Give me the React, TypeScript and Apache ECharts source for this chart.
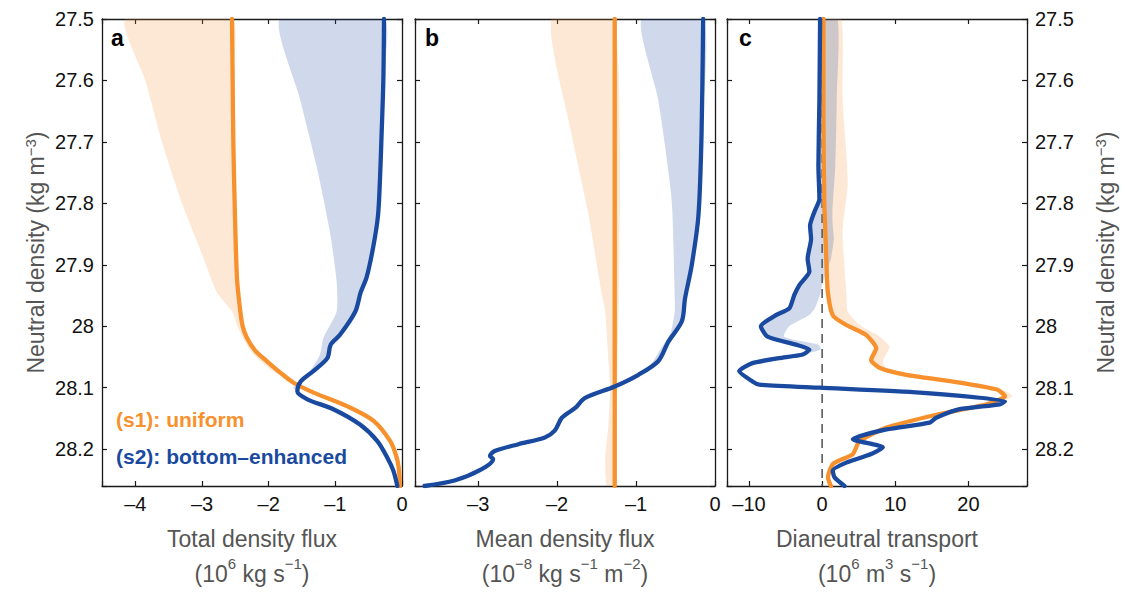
import React, { useEffect, useRef } from 'react';
import * as echarts from 'echarts';

const FONT = '"Liberation Sans", Arial, Helvetica, sans-serif';
const ORANGE = '#F7912D';
const BLUE = '#1A4A9F';
const ORANGE_FILL = 'rgba(246,141,46,0.2)';
const BLUE_FILL = 'rgba(27,75,160,0.21)';
const NAME_GRAY = '#555555';

// ---------- Panel a: total density flux (10^6 kg s^-1) ----------
const A_S1_DENS = [27.5, 27.6, 27.7, 27.8, 27.922, 27.976, 28.0, 28.019, 28.04, 28.057, 28.075, 28.092, 28.108, 28.13, 28.154, 28.187, 28.21, 28.23, 28.26];
const A_S1_FLUX = [-2.55, -2.54, -2.53, -2.51, -2.475, -2.425, -2.39, -2.325, -2.2, -2.025, -1.83, -1.626, -1.326, -0.825, -0.426, -0.176, -0.09, -0.05, -0.03];
const A_S1_BAND_DENS = [27.5, 27.6, 27.7, 27.8, 27.874, 27.944, 27.976, 28.0, 28.03, 28.05, 28.072, 28.092];
const A_S1_BAND_LOW = [-4.15, -3.85, -3.6, -3.3, -3.03, -2.78, -2.55, -2.47, -2.33, -2.19, -1.95, -1.626];

const A_S2_DENS = [27.5, 27.6, 27.7, 27.76, 27.82, 27.87, 27.92, 27.945, 27.976, 28.014, 28.03, 28.052, 28.073, 28.09, 28.106, 28.119, 28.135, 28.16, 28.187, 28.214, 28.235, 28.26];
const A_S2_FLUX = [-0.27, -0.28, -0.31, -0.33, -0.36, -0.43, -0.53, -0.62, -0.7, -0.93, -1.07, -1.12, -1.33, -1.52, -1.57, -1.42, -1.03, -0.63, -0.37, -0.22, -0.13, -0.07];
const A_S2_BAND_DENS = [27.5, 27.63, 27.74, 27.847, 27.928, 27.976, 28.019, 28.046, 28.073, 28.1, 28.106];
const A_S2_BAND_LOW = [-1.83, -1.53, -1.28, -1.08, -0.98, -0.98, -1.18, -1.23, -1.38, -1.63, -1.57];

// ---------- Panel b: mean density flux (10^-8 kg s^-1 m^-2) ----------
const B_S1_DENS = [27.5, 28.26];
const B_S1_FLUX = [-1.27, -1.27];
const B_S1_BAND_DENS = [27.5, 27.685, 27.82, 27.944, 27.976, 28.057, 28.1, 28.16, 28.214, 28.26];
const B_S1_BAND_LOW = [-2.07, -1.82, -1.6, -1.44, -1.39, -1.35, -1.33, -1.35, -1.39, -1.37];

const B_S2_DENS = [27.5, 27.685, 27.82, 27.901, 27.955, 27.992, 28.025, 28.057, 28.079, 28.098, 28.117, 28.133, 28.149, 28.17, 28.181, 28.192, 28.203, 28.211, 28.216, 28.233, 28.251, 28.26];
const B_S2_FLUX = [-0.15, -0.17, -0.21, -0.295, -0.38, -0.42, -0.59, -0.72, -0.97, -1.27, -1.65, -1.77, -1.94, -2.03, -2.155, -2.49, -2.79, -2.85, -2.81, -2.96, -3.3, -3.68];
const B_S2_BAND_DENS = [27.5, 27.631, 27.793, 27.955, 27.976, 28.01, 28.035, 28.06, 28.079];
const B_S2_BAND_LOW = [-0.93, -0.72, -0.55, -0.51, -0.51, -0.56, -0.68, -0.8, -0.97];

// ---------- Panel c: dianeutral transport (10^6 m^3 s^-1) ----------
const C_S1_DENS = [27.5, 27.6, 27.7, 27.8, 27.85, 27.9, 27.944, 27.982, 27.998, 28.014, 28.036, 28.055, 28.068, 28.079, 28.09, 28.103, 28.114, 28.127, 28.144, 28.165, 28.187, 28.208, 28.224, 28.246, 28.26];
const C_S1_TRANS = [0.18, 0.18, 0.2, 0.3, 0.45, 0.6, 0.77, 1.45, 3.3, 6.0, 7.4, 6.7, 7.9, 11.5, 17.9, 23.9, 25.0, 22.5, 15.6, 8.8, 5.1, 4.2, 1.5, 0.8, 1.2];
const C_S1_BAND_DENS = [27.5, 27.631, 27.766, 27.847, 27.944, 27.976, 27.998, 28.014, 28.033, 28.057, 28.068, 28.079, 28.09, 28.103, 28.114, 28.127];
const C_S1_BAND_LOW = [0.0, 0.0, 0.05, 0.15, 0.6, 1.3, 2.8, 5.5, 7.0, 6.4, 7.6, 11.2, 17.5, 23.5, 24.5, 22.3];
const C_S1_BAND_HIGH = [2.6, 2.8, 3.5, 2.8, 3.3, 3.5, 5.1, 7.5, 9.2, 8.3, 8.8, 12.2, 18.6, 24.6, 26.0, 23.0];

const C_S2_DENS = [27.5, 27.631, 27.739, 27.793, 27.814, 27.836, 27.858, 27.89, 27.911, 27.933, 27.949, 27.971, 27.982, 28.0, 28.017, 28.03, 28.038, 28.046, 28.052, 28.06, 28.073, 28.09, 28.095, 28.1, 28.108, 28.122, 28.127, 28.135, 28.149, 28.157, 28.168, 28.184, 28.197, 28.208, 28.222, 28.235, 28.246, 28.26];
const C_S2_TRANS = [-0.28, -0.37, -0.51, -0.37, -1.06, -1.65, -1.51, -1.98, -1.74, -3.11, -3.8, -4.49, -6.31, -8.37, -7.46, -3.57, -1.74, -2.66, -5.86, -9.52, -11.34, -9.52, -8.6, -0.37, 13.35, 25.0, 24.3, 18.8, 15.6, 14.7, 8.8, 4.2, 8.3, 6.7, 3.3, 1.45, 1.7, 3.06];
const C_S2_BAND_DENS = [27.5, 27.631, 27.739, 27.793, 27.814, 27.836, 27.858, 27.89, 27.911, 27.933, 27.949, 27.971, 27.982, 28.0, 28.017, 28.03, 28.038, 28.046];
const C_S2_BAND_LOW = [-0.35, -0.45, -0.6, -0.45, -1.15, -1.75, -1.6, -2.05, -1.85, -3.2, -3.9, -4.6, -6.4, -8.5, -7.6, -3.7, -1.85, -2.7];
const C_S2_BAND_HIGH = [2.1, 2.0, 1.8, 1.5, 1.4, 1.45, 1.6, 1.2, 0.6, 0.0, -0.3, -1.0, -1.8, -4.5, -5.2, -0.5, -0.2, -2.6];

const ZERO_LINE_DENS = [27.5, 28.26];
const ZERO_LINE_X = [0, 0];

// axes
const DENS_MIN = 27.5;
const DENS_MAX = 28.26;
const DENS_STEP = 0.1;
const X_RANGES = [
  { min: -4.5, max: 0, step: 1 },
  { min: -3.8, max: 0, step: 1 },
  { min: -13, max: 28, step: 10 },
];
const X_NAMES = [
  'Total density flux\n(10{sup|6} kg s{sup|−1})',
  'Mean density flux\n(10{sup|−8} kg s{sup|−1} m{sup|−2})',
  'Dianeutral transport\n(10{sup|6} m{sup|3} s{sup|−1})',
];
const Y_NAME = 'Neutral density (kg m{sup|−3})';
const PANEL_LETTERS = ['a', 'b', 'c'];
const LEGEND_LABELS = ['(s1): uniform', '(s2): bottom–enhanced'];

const GRIDS = [
  { left: 102, top: 19, width: 300, height: 470 },
  { left: 415, top: 19, width: 300, height: 470 },
  { left: 727, top: 19, width: 300, height: 470 },
];

const pairs = (xs: number[], ds: number[]) => ds.map((d, i) => [xs[i], d]);

const fmtX = (step: number) => (v: number) => {
  const r = Math.round(v / step);
  if (Math.abs(v / step - r) > 1e-6) return '';
  const n = r * step;
  return n < 0 ? '–' + Math.abs(n) : String(n);
};
const fmtY = (v: number) => {
  const t = Math.round(v * 10);
  if (Math.abs(v * 10 - t) > 1e-6) return '';
  return String(t / 10);
};

const AXIS_COLOR = '#1a1a1a';
const TICK_FONT = 20;

function makeOption() {
  const xAxis: any[] = [];
  const yAxis: any[] = [];
  for (let i = 0; i < 3; i++) {
    const r = X_RANGES[i];
    xAxis.push({
      type: 'value', gridIndex: i, position: 'bottom', min: r.min, max: r.max,
      axisLine: { show: true, onZero: false, lineStyle: { color: AXIS_COLOR, width: 1.3 } },
      axisTick: { show: true, inside: true, length: 5, lineStyle: { color: AXIS_COLOR, width: 1.2 } },
      axisLabel: { show: true, margin: 8, color: '#111', fontSize: TICK_FONT, fontFamily: FONT, formatter: fmtX(r.step) },
      splitLine: { show: false },
      name: X_NAMES[i], nameLocation: 'middle', nameGap: 35,
      nameTextStyle: {
        color: NAME_GRAY, fontSize: 23, fontFamily: FONT, lineHeight: 35,
        rich: { sup: { color: NAME_GRAY, fontSize: 15, fontFamily: FONT, lineHeight: 15, verticalAlign: 'top' } },
      },
    });
  }
  for (let i = 0; i < 3; i++) {
    const r = X_RANGES[i];
    xAxis.push({
      type: 'value', gridIndex: i, position: 'top', min: r.min, max: r.max,
      axisLine: { show: true, onZero: false, lineStyle: { color: AXIS_COLOR, width: 1.3 } },
      axisTick: { show: true, inside: true, length: 5, lineStyle: { color: AXIS_COLOR, width: 1.2 } },
      axisLabel: { show: false },
      splitLine: { show: false },
    });
  }
  const yNameStyle = {
    color: NAME_GRAY, fontSize: 23, fontFamily: FONT, lineHeight: 26,
    rich: { sup: { color: NAME_GRAY, fontSize: 15, fontFamily: FONT, lineHeight: 12, verticalAlign: 'top' } },
  };
  for (let side = 0; side < 2; side++) {
    for (let i = 0; i < 3; i++) {
      const showLabels = (side === 0 && i === 0) || (side === 1 && i === 2);
      yAxis.push({
        type: 'value', gridIndex: i, position: side === 0 ? 'left' : 'right',
        min: DENS_MIN, max: DENS_MAX, interval: DENS_STEP, inverse: true,
        axisLine: { show: true, onZero: false, lineStyle: { color: AXIS_COLOR, width: 1.3 } },
        axisTick: { show: true, inside: true, length: 5, lineStyle: { color: AXIS_COLOR, width: 1.2 } },
        axisLabel: { show: showLabels, margin: 8, color: '#111', fontSize: TICK_FONT, fontFamily: FONT, formatter: fmtY },
        splitLine: { show: false },
        name: showLabels ? Y_NAME : '',
        nameLocation: 'middle', nameRotate: 90, nameGap: side === 0 ? 53 : 66,
        nameTextStyle: yNameStyle,
      });
    }
  }

  const band = (gi: number, lowD: number[], low: number[], highD: number[], high: number[], fill: string, z: number) => ({
    type: 'custom', xAxisIndex: gi, yAxisIndex: gi, silent: true, z, clip: true,
    data: [[low[0], lowD[0]]],
    renderItem: (_p: any, api: any) => {
      const pts: number[][] = [];
      for (let k = 0; k < lowD.length; k++) pts.push(api.coord([low[k], lowD[k]]));
      for (let k = highD.length - 1; k >= 0; k--) pts.push(api.coord([high[k], highD[k]]));
      return { type: 'polygon', shape: { points: pts, smooth: 0.2 }, style: { fill } };
    },
  });
  const bandToLine = (gi: number, lowD: number[], low: number[], lineD: number[], lineX: number[], fill: string, z: number) => {
    const last = lowD[lowD.length - 1];
    const hd: number[] = [];
    const hx: number[] = [];
    lineD.forEach((d, k) => { if (d <= last + 1e-9) { hd.push(d); hx.push(lineX[k]); } });
    return band(gi, lowD, low, hd, hx, fill, z);
  };
  const line = (gi: number, xs: number[], ds: number[], color: string, z: number, smooth = 0.3) => ({
    type: 'line', xAxisIndex: gi, yAxisIndex: gi, data: pairs(xs, ds), showSymbol: false, symbol: 'none',
    smooth, z, silent: true, clip: true,
    lineStyle: { color, width: 4.3, cap: 'round', join: 'round' },
  });

  const series: any[] = [
    bandToLine(0, A_S1_BAND_DENS, A_S1_BAND_LOW, A_S1_DENS, A_S1_FLUX, ORANGE_FILL, 1),
    bandToLine(0, A_S2_BAND_DENS, A_S2_BAND_LOW, A_S2_DENS, A_S2_FLUX, BLUE_FILL, 1),
    bandToLine(1, B_S1_BAND_DENS, B_S1_BAND_LOW, B_S1_DENS, B_S1_FLUX, ORANGE_FILL, 1),
    bandToLine(1, B_S2_BAND_DENS, B_S2_BAND_LOW, B_S2_DENS, B_S2_FLUX, BLUE_FILL, 1),
    band(2, C_S1_BAND_DENS, C_S1_BAND_LOW, C_S1_BAND_DENS, C_S1_BAND_HIGH, ORANGE_FILL, 1),
    band(2, C_S2_BAND_DENS, C_S2_BAND_LOW, C_S2_BAND_DENS, C_S2_BAND_HIGH, BLUE_FILL, 1),
    {
      type: 'line', xAxisIndex: 2, yAxisIndex: 2, data: pairs(ZERO_LINE_X, ZERO_LINE_DENS), showSymbol: false,
      symbol: 'none', z: 2, silent: true,
      lineStyle: { color: '#5a5a5a', width: 1.6, type: [9, 6] },
    },
    line(0, A_S1_FLUX, A_S1_DENS, ORANGE, 3),
    line(1, B_S1_FLUX, B_S1_DENS, ORANGE, 3, 0),
    line(2, C_S1_TRANS, C_S1_DENS, ORANGE, 3, 0.2),
    line(0, A_S2_FLUX, A_S2_DENS, BLUE, 4),
    line(1, B_S2_FLUX, B_S2_DENS, BLUE, 4),
    line(2, C_S2_TRANS, C_S2_DENS, BLUE, 4, 0.2),
  ];

  const letterX = [111, 425, 739];
  const graphic: any[] = PANEL_LETTERS.map((t, i) => ({
    type: 'text', left: letterX[i], top: 26, z: 10,
    style: { text: t, fill: '#000', font: `bold 23px ${FONT}` },
  }));
  graphic.push(
    { type: 'text', left: 116, top: 409, z: 10, style: { text: LEGEND_LABELS[0], fill: ORANGE, font: `bold 21px ${FONT}` } },
    { type: 'text', left: 116, top: 446, z: 10, style: { text: LEGEND_LABELS[1], fill: BLUE, font: `bold 21px ${FONT}` } },
  );

  return {
    animation: false,
    backgroundColor: '#ffffff',
    textStyle: { fontFamily: FONT },
    grid: GRIDS.map((g) => ({ ...g, containLabel: false })),
    xAxis, yAxis, series, graphic,
  };
}

export default function App() {
  const ref = useRef<HTMLDivElement>(null);
  useEffect(() => {
    if (!ref.current) return;
    const chart = echarts.init(ref.current, null, { renderer: 'svg' });
    chart.setOption(makeOption() as any);
    return () => chart.dispose();
  }, []);
  return <div ref={ref} style={{ position: 'absolute', left: 0, top: 0, width: 1131, height: 596, background: '#fff' }} />;
}
